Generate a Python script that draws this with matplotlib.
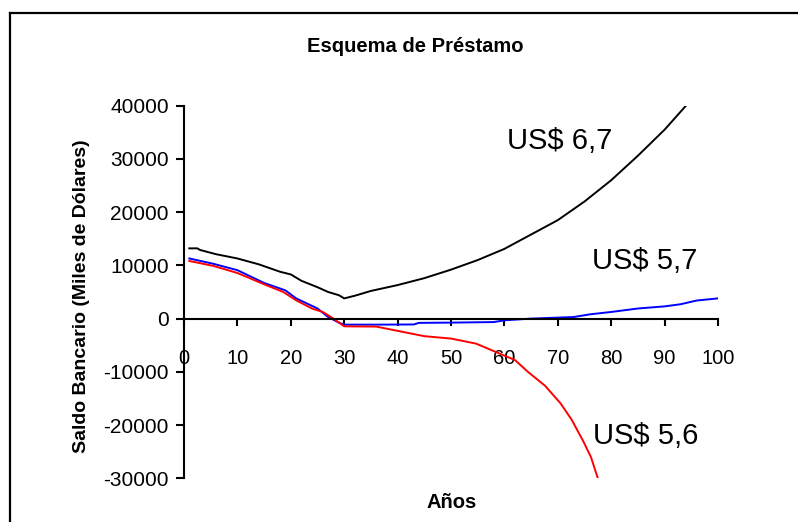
import matplotlib
matplotlib.use("Agg")
import matplotlib.pyplot as plt
from matplotlib.lines import Line2D

plt.rcParams['font.family'] = ['Liberation Sans', 'DejaVu Sans']
plt.rcParams['axes.unicode_minus'] = False

# saldo con pago de US$ 6,7
years_67 = [1, 2.5, 3, 6, 10, 14, 18, 20, 22, 25, 27, 29, 30, 32, 35, 40, 45, 50, 55,
            60, 65, 70, 75, 80, 85, 90, 94, 96]
saldo_67 = [13200, 13200, 12900, 12100, 11300, 10200, 8800, 8300, 7100, 5900, 5000, 4400,
            3800, 4300, 5200, 6300, 7600, 9200, 11000, 13100, 15800, 18500, 22000, 26000,
            30600, 35500, 40000, 42500]

# saldo con pago de US$ 5,7
years_57 = [1, 5.5, 10, 15, 19, 21, 25, 27, 29, 30, 36, 43, 44, 50, 58, 60, 65, 73, 76,
            80, 85, 90, 93, 96, 100]
saldo_57 = [11300, 10300, 9100, 6700, 5300, 3800, 1900, 300, -750, -1130, -1130, -1100,
            -800, -750, -650, -320, 0, 300, 800, 1250, 1900, 2300, 2700, 3400, 3800]

# saldo con pago de US$ 5,6
years_56 = [1, 5.5, 10, 15, 18.6, 21, 24, 26, 28, 30, 36, 40, 45, 50, 54.7, 58, 62,
            64.4, 67.6, 70.5, 72.6, 74.8, 76.2, 77.5]
saldo_56 = [10830, 9900, 8570, 6450, 5000, 3440, 1880, 1240, 0, -1450, -1500, -2300,
            -3300, -3750, -4700, -6100, -7800, -10000, -12600, -15900, -19000, -23100,
            -26000, -30000]

x_ticks = [0, 10, 20, 30, 40, 50, 60, 70, 80, 90, 100]
y_ticks = [-30000, -20000, -10000, 0, 10000, 20000, 30000, 40000]

fig = plt.figure(figsize=(7.98, 5.22), dpi=100)
ax = fig.add_axes([184/798, 43.7/522, 534/798, 372.6/522])

ax.plot(years_67, saldo_67, color='black', lw=1.4)
ax.plot(years_57, saldo_57, color='#0000ff', lw=1.4)
ax.plot(years_56, saldo_56, color='#ff0000', lw=1.4)

ax.set_xlim(0, 100)
ax.set_ylim(-30000, 40000)
ax.set_xticks(x_ticks)
ax.set_yticks(y_ticks)

ax.spines['top'].set_visible(False)
ax.spines['right'].set_visible(False)
ax.spines['bottom'].set_position(('data', 0))
ax.spines['bottom'].set_linewidth(1.5)
ax.spines['left'].set_linewidth(1.5)

ax.tick_params(axis='x', direction='out', length=5, width=1.5, pad=17, labelsize=14.5)
ax.tick_params(axis='y', direction='out', length=6, width=1.5, pad=5, labelsize=15)

ax.text(70.4, 33300, 'US$ 6,7', fontsize=21, ha='center', va='center')
ax.text(86.3, 10800, 'US$ 5,7', fontsize=21, ha='center', va='center')
ax.text(86.4, -22000, 'US$ 5,6', fontsize=21, ha='center', va='center')

fig.text(415/798, 1 - 47/522, 'Esquema de Préstamo', fontsize=14.5, fontweight='bold',
         ha='center', va='center')
fig.text(452/798, 1 - 503/522, 'Años', fontsize=14.5, fontweight='bold',
         ha='center', va='center')
fig.text(82/798, 1 - 296/522, 'Saldo Bancario (Miles de Dólares)', fontsize=14,
         fontweight='bold', rotation=90, ha='center', va='center')

# marco del grafico (solo se ven el borde izquierdo y el superior)
fig.add_artist(Line2D([10/798, 10/798], [0, 1 - 12.5/522], transform=fig.transFigure,
                      color='black', lw=1.6))
fig.add_artist(Line2D([10/798, 1], [1 - 12.5/522, 1 - 12.5/522], transform=fig.transFigure,
                      color='black', lw=1.6))

fig.savefig('out.png', dpi=100)
